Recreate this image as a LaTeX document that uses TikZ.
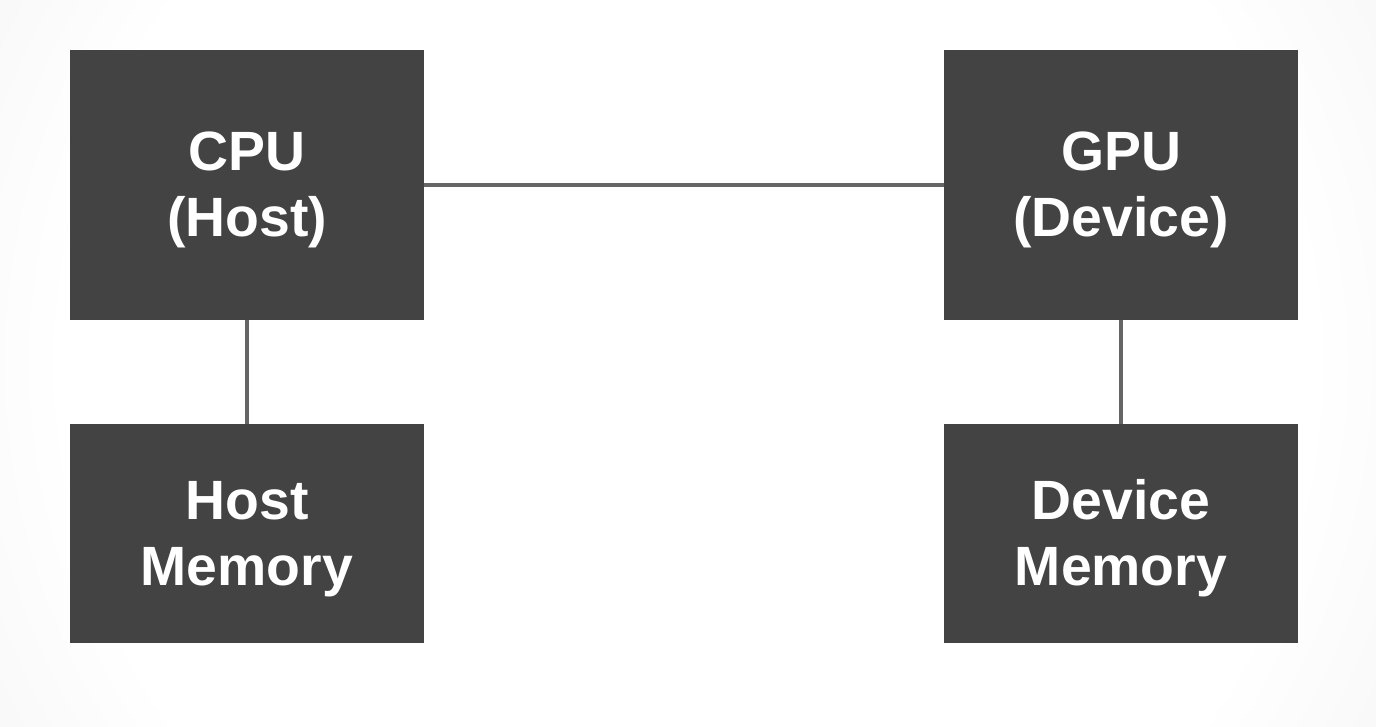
\documentclass[tikz,border=0pt]{standalone}
\usepackage{fontspec}
\setmainfont{Liberation Sans}
\usepackage{tikz}
\usetikzlibrary{positioning}
\definecolor{boxgray}{HTML}{434343}
\definecolor{linkgray}{HTML}{666666}
\pgfdeclareradialshading{bgglow}{\pgfpoint{0bp}{0bp}}{%
  color(0bp)=(white); color(20bp)=(white); color(44bp)=(black!12); color(50bp)=(black!14)}
\newcommand{\toppad}{\rule{0pt}{28pt}}
\tikzset{
  unit/.style={fill=boxgray,text=white,font=\fontsize{31.5}{37.5}\selectfont\bfseries,
    align=center,minimum width=7.08cm,inner sep=0pt},
  link/.style={draw=linkgray,line width=2.3pt}
}

\begin{document}
\begin{tikzpicture}
    % background glow
    \begin{scope}
      \clip (0,0) rectangle (27.52,14.52);
      \shade[shading=bgglow] (13.76,7.26) ++(-15.56,-15.56) rectangle ++(31.12,31.12);
    \end{scope}
    \useasboundingbox (0,0) rectangle (27.52,14.52);
    \node[unit,minimum height=5.4cm] (cpu) at (4.94,10.82) {\toppad CPU\\(Host)};
    \node[unit,minimum height=5.4cm] (gpu) at (22.42,10.82) {\toppad GPU\\(Device)};
    \node[unit,minimum height=4.38cm] (hmem) at (4.94,3.85) {\toppad Host\\Memory};
    \node[unit,minimum height=4.38cm] (dmem) at (22.42,3.85) {\toppad Device\\Memory};
    \draw[link] (cpu) -- (gpu);
    \draw[link] (cpu) -- (hmem);
    \draw[link] (gpu) -- (dmem);
\end{tikzpicture}
\end{document}
